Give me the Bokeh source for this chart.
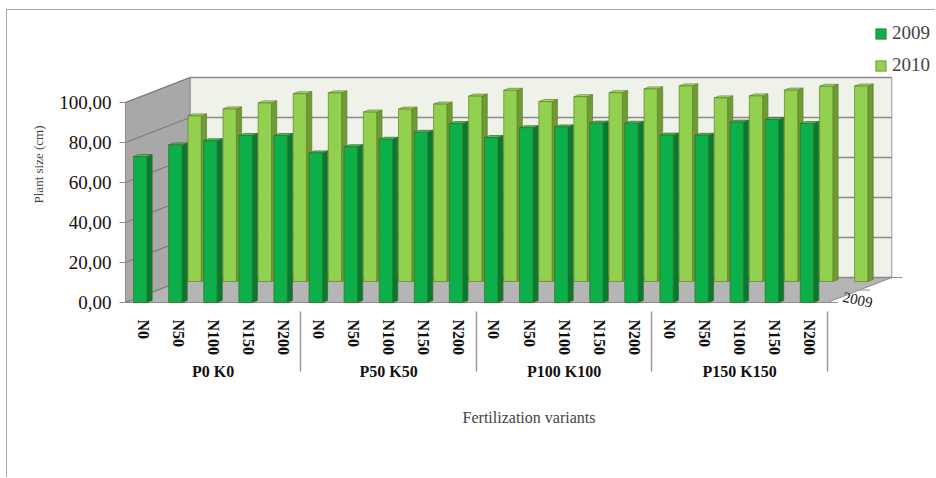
from bokeh.plotting import figure
from bokeh.models import (ColumnDataSource, FactorRange, Range1d, FixedTicker,
                          Legend, LegendItem, Title, Label)
from bokeh.embed import file_html
from bokeh.resources import INLINE

# Plant size (cm) per fertilization variant and year
groups = ["P0 K0", "P50 K50", "P100 K100", "P150 K150"]
doses = ["N0", "N50", "N100", "N150", "N200"]
series_names = ["2009", "2010"]
size_2009 = [73.0, 78.8, 80.9, 83.5, 83.5,
             74.8, 77.9, 81.6, 85.1, 89.5,
             82.5, 87.4, 87.8, 89.7, 89.6,
             83.7, 83.6, 90.2, 91.5, 89.5]
size_2010 = [82.8, 86.3, 89.3, 93.9, 94.3,
             84.7, 86.2, 88.7, 92.7, 95.6,
             90.0, 92.4, 94.4, 96.3, 97.8,
             91.8, 92.8, 95.7, 97.6, 97.7]
y_ticks = [0, 20, 40, 60, 80, 100]
y_tick_labels = ["0,00", "20,00", "40,00", "60,00", "80,00", "100,00"]

FONT = "Liberation Serif"

categories = [(g, d) for g in groups for d in doses]
# empty trailing slots leave room for the receding walls on the right
pad_slots = [(" ", " "), (" ", "  "), (" ", "   ")]

# oblique "3-D" offsets: x in category widths, y in cm
BAR_W, BAR_OFF = 0.38, -0.08
BAR_DX, BAR_DY = 0.15, 1.0
ROW_DX, ROW_DY = 1.55, 10.5
WALL_DX, WALL_DY = 1.84, 12.5

x_range = FactorRange(*categories, *pad_slots, factor_padding=0,
                      group_padding=0, subgroup_padding=0, range_padding=0)
p = figure(width=929, height=468, x_range=x_range, y_range=Range1d(-3, 141),
           output_backend="svg", toolbar_location=None,
           min_border_left=118, min_border_right=4,
           min_border_top=10, min_border_bottom=170,
           styles={"margin-left": "6px", "margin-top": "9px",
                   "border-left": "1px solid #a8a8a8",
                   "border-top": "1px solid #a8a8a8"})
p.xgrid.grid_line_color = None
p.ygrid.grid_line_color = None
p.outline_line_color = None

n = len(categories)
x0, x1 = 0, n
top_val = y_ticks[-1]

# walls and floor
p.patch([x0 + WALL_DX, x1 + WALL_DX, x1 + WALL_DX, x0 + WALL_DX],
        [WALL_DY, WALL_DY, top_val + WALL_DY, top_val + WALL_DY],
        fill_color="#eef2e9", line_color="#9a9a9a", line_width=1)
p.patch([x0, x0 + WALL_DX, x0 + WALL_DX, x0],
        [0, WALL_DY, top_val + WALL_DY, top_val],
        fill_color="#a8a8a8", line_color="#8c8c8c", line_width=1)
p.patch([x0, x1, x1 + WALL_DX, x0 + WALL_DX],
        [0, 0, WALL_DY, WALL_DY],
        fill_color="#b5b5b5", line_color="#8c8c8c", line_width=1)

# gridlines on the back and side walls
grid_back = ColumnDataSource(dict(
    xs=[[x0 + WALL_DX, x1 + WALL_DX] for t in y_ticks],
    ys=[[t + WALL_DY, t + WALL_DY] for t in y_ticks]))
grid_side = ColumnDataSource(dict(
    xs=[[x0, x0 + WALL_DX] for t in y_ticks],
    ys=[[t, t + WALL_DY] for t in y_ticks]))
p.multi_line("xs", "ys", source=grid_back, line_color="#8a8a8a", line_width=1.3)
p.multi_line("xs", "ys", source=grid_side, line_color="#7c7c7c", line_width=1.3)

# depth-axis ticks along the right edge of the floor
depth_ticks = ColumnDataSource(dict(
    xs=[[x1 + WALL_DX * f, x1 + WALL_DX * f + 0.3] for f in (0.0, 0.5, 1.0)],
    ys=[[WALL_DY * f, WALL_DY * f] for f in (0.0, 0.5, 1.0)]))
p.multi_line("xs", "ys", source=depth_ticks, line_color="#8c8c8c", line_width=1)


def bar_sources(values, dx, dy):
    front = dict(x=[], bottom=[], top=[])
    side = dict(xs=[], ys=[])
    cap = dict(xs=[], ys=[])
    for i, ((g, d), v) in enumerate(zip(categories, values)):
        front["x"].append((g, d, dx + BAR_OFF))
        front["bottom"].append(dy)
        front["top"].append(dy + v)
        c = i + 0.5 + dx + BAR_OFF
        l, r = c - BAR_W / 2, c + BAR_W / 2
        b, t = dy, dy + v
        side["xs"].append([r, r + BAR_DX, r + BAR_DX, r])
        side["ys"].append([b, b + BAR_DY, t + BAR_DY, t])
        cap["xs"].append([l, r, r + BAR_DX, l + BAR_DX])
        cap["ys"].append([t, t, t + BAR_DY, t + BAR_DY])
    return (ColumnDataSource(front), ColumnDataSource(side),
            ColumnDataSource(cap))


def draw_bars(values, dx, dy, face, shade, light, edge):
    front, side, cap = bar_sources(values, dx, dy)
    p.patches("xs", "ys", source=side, fill_color=shade, line_color=edge,
              line_width=0.7)
    p.patches("xs", "ys", source=cap, fill_color=light, line_color=edge,
              line_width=0.7)
    return p.vbar(x="x", width=BAR_W, bottom="bottom", top="top",
                  source=front, fill_color=face, line_color=edge,
                  line_width=0.7)


r2010 = draw_bars(size_2010, ROW_DX, ROW_DY,
                  "#92d050", "#6f9a35", "#aedd78", "#5e7f25")
r2009 = draw_bars(size_2009, 0, 0,
                  "#0bb04b", "#067a31", "#3ec46a", "#3d6b1f")

# depth-axis label for the front row
p.add_layout(Label(x=x1 + 0.45, y=3.0, text=series_names[0], angle=-0.22,
                   text_font=FONT, text_font_size="15px",
                   text_baseline="middle", text_color="#222222"))

legend = Legend(items=[LegendItem(label=series_names[0], renderers=[r2009]),
                       LegendItem(label=series_names[1], renderers=[r2010])],
                location="top_right", margin=2, padding=4, spacing=10,
                glyph_width=13, glyph_height=13, label_standoff=5,
                label_text_font=FONT, label_text_font_size="19px",
                border_line_color=None, background_fill_alpha=0)
p.add_layout(legend)

ya = p.yaxis[0]
ya.ticker = FixedTicker(ticks=y_ticks)
ya.major_label_overrides = dict(zip(y_ticks, y_tick_labels))
ya.bounds = (0, top_val)
ya.axis_line_color = "#8c8c8c"
ya.major_tick_out = 6
ya.major_tick_in = 0
ya.major_tick_line_color = "#8c8c8c"
ya.minor_tick_line_color = None
ya.major_label_standoff = 8
ya.major_label_text_font = FONT
ya.major_label_text_font_size = "19px"
ya.major_label_text_color = "#111111"
ya.axis_label = "Plant size (cm)"
ya.axis_label_text_font = FONT
ya.axis_label_text_font_size = "13px"
ya.axis_label_text_font_style = "normal"
ya.axis_label_standoff = 10

xa = p.xaxis[0]
xa.major_label_orientation = "vertical"
xa.major_label_text_font = FONT
xa.major_label_text_font_size = "16px"
xa.major_label_text_font_style = "bold"
xa.major_label_text_color = "#111111"
xa.major_label_standoff = 5
xa.group_text_font = FONT
xa.group_text_font_size = "16px"
xa.group_text_font_style = "bold"
xa.group_text_color = "#111111"
xa.axis_line_color = None
xa.major_tick_line_color = None
xa.separator_line_color = "#9a9a9a"
xa.separator_line_width = 1.5

p.add_layout(Title(text="Fertilization variants", align="center", offset=-50,
                   text_font=FONT, text_font_size="16px",
                   text_font_style="normal", standoff=47), "below")

open("out.html", "w").write(file_html(p, INLINE))
